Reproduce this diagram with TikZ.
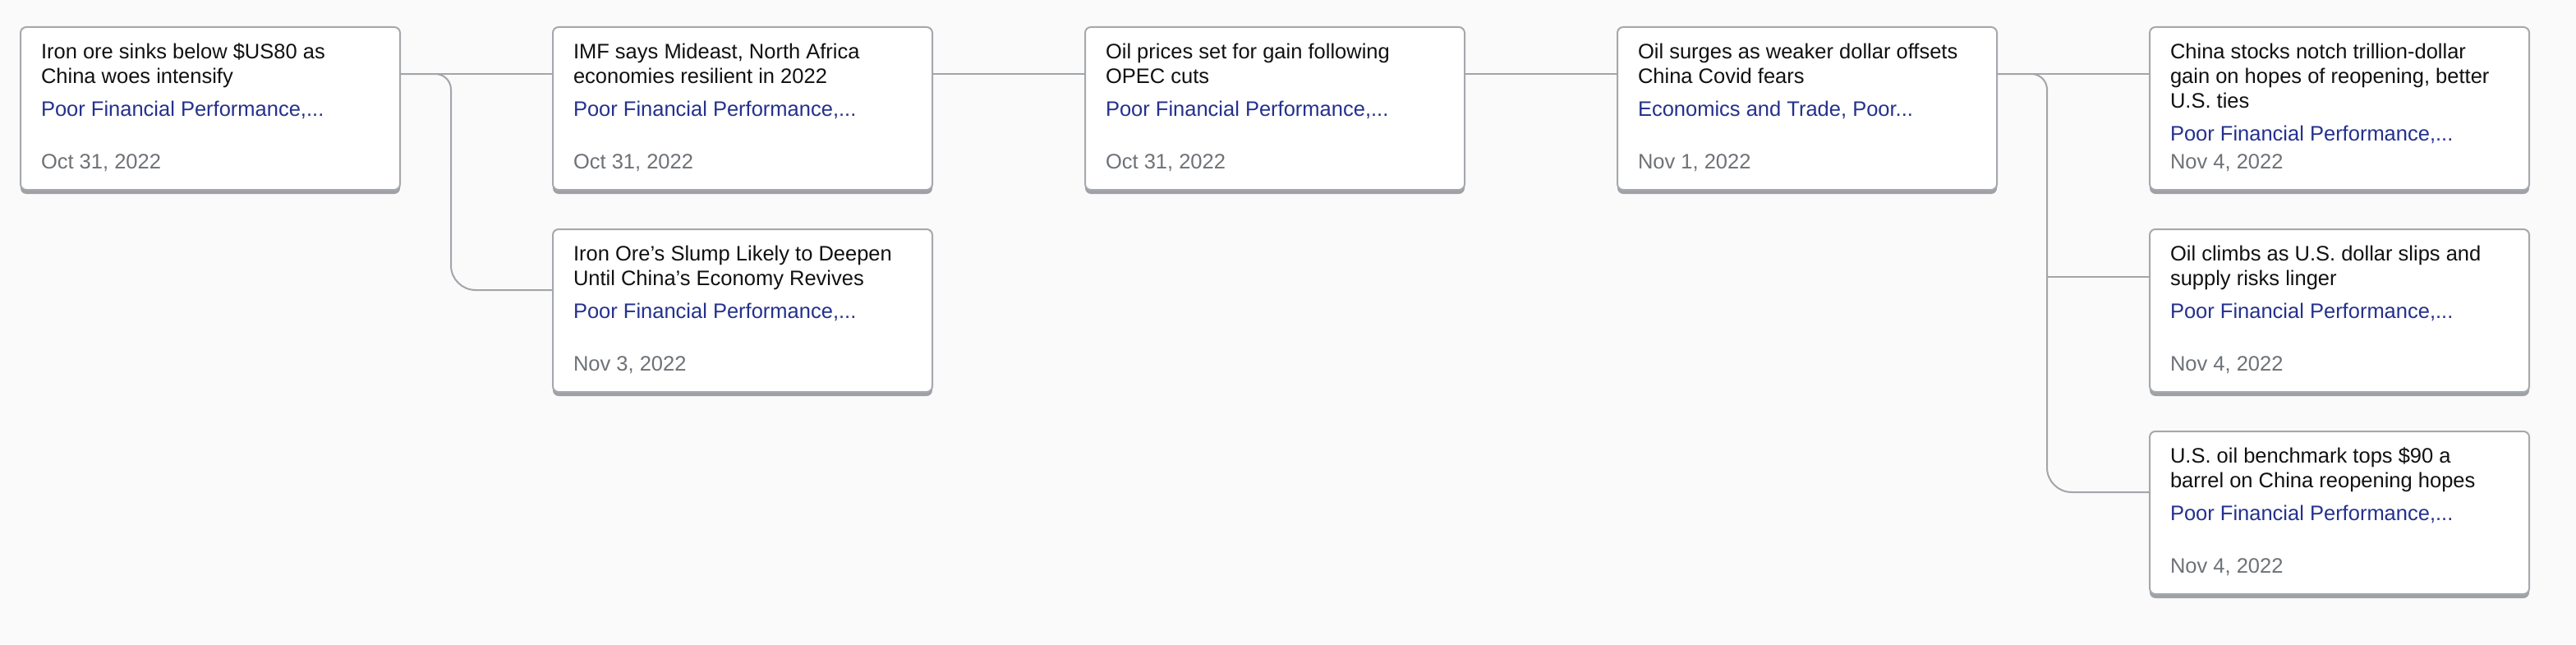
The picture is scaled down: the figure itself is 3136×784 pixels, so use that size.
\documentclass[tikz,border=0pt]{standalone}
\usepackage{fontspec}
\setmainfont{Liberation Sans}
\usetikzlibrary{calc,shadows}
\definecolor{bg}{HTML}{FAFAFA}
\definecolor{cardborder}{HTML}{A5A8AC}
\definecolor{shadowgray}{HTML}{9EA1A6}
\definecolor{linegray}{HTML}{A2A5A9}
\definecolor{titlecol}{HTML}{111111}
\definecolor{tagcol}{HTML}{24318D}
\definecolor{datecol}{HTML}{6E7277}
\tikzset{
  card/.style={draw=cardborder, line width=2pt, fill=white, rounded corners=7pt,
    minimum width=462pt, minimum height=198pt, anchor=north west, inner sep=0pt, outer sep=0pt,
    drop shadow={shadow xshift=0pt, shadow yshift=-5pt, fill=shadowgray, opacity=1, shadow scale=1}},
  txt/.style={anchor=base west, inner sep=0pt, outer sep=0pt, font=\fontsize{25.5}{30}\selectfont},
  ttl/.style={txt, text=titlecol},
  tg/.style={txt, text=tagcol},
  dt/.style={txt, text=datecol},
  conn/.style={draw=linegray, line width=2pt}
}
\newcommand\mkcard[8]{%
  \node[card] (#1) at #2 {};
  \node[ttl] (#1a) at ($(#1.north west)+(25,38)$) {#3};
  \node[ttl] (#1b) at ($(#1.north west)+(25,68)$) {#4};
  \if\relax\detokenize{#5}\relax\else
    \node[ttl] (#1c) at ($(#1.north west)+(25,98)$) {#5};\fi
  \node[tg] (#1g) at ($(#1.north west)+(25,#6)$) {#7};
  \node[dt] (#1d) at ($(#1.north west)+(25,172)$) {#8};
}
\begin{document}
\begin{tikzpicture}[x=1pt,y=-1pt]
\fill[bg] (0,0) rectangle (3136,784);
\useasboundingbox (0,0) rectangle (3136,784);

\mkcard{c1}{(25,33)}{Iron ore sinks below \$US80 as}{China woes intensify}{}{108}{Poor Financial Performance,...}{Oct 31, 2022}
\mkcard{c2}{(673,33)}{IMF says Mideast, North Africa}{economies resilient in 2022}{}{108}{Poor Financial Performance,...}{Oct 31, 2022}
\mkcard{c3}{(1321,33)}{Oil prices set for gain following}{OPEC cuts}{}{108}{Poor Financial Performance,...}{Oct 31, 2022}
\mkcard{c4}{(1969,33)}{Oil surges as weaker dollar offsets}{China Covid fears}{}{108}{Economics and Trade, Poor...}{Nov 1, 2022}
\mkcard{c5}{(2617,33)}{China stocks notch trillion-dollar}{gain on hopes of reopening, better}{U.S. ties}{138}{Poor Financial Performance,...}{Nov 4, 2022}
\mkcard{c6}{(673,279)}{Iron Ore’s Slump Likely to Deepen}{Until China’s Economy Revives}{}{108}{Poor Financial Performance,...}{Nov 3, 2022}
\mkcard{c7}{(2617,279)}{Oil climbs as U.S. dollar slips and}{supply risks linger}{}{108}{Poor Financial Performance,...}{Nov 4, 2022}
\mkcard{c8}{(2617,525)}{U.S. oil benchmark tops \$90 a}{barrel on China reopening hopes}{}{108}{Poor Financial Performance,...}{Nov 4, 2022}

% main chain
\draw[conn] ($(c1.north east)+(0,57)$) -- ($(c2.north west)+(0,57)$);
\draw[conn] ($(c2.north east)+(0,57)$) -- ($(c3.north west)+(0,57)$);
\draw[conn] ($(c3.north east)+(0,57)$) -- ($(c4.north west)+(0,57)$);
\draw[conn] ($(c4.north east)+(0,57)$) -- ($(c5.north west)+(0,57)$);

% branch 1
\coordinate (j1) at ($(c1.north east)+(62,57)$);
\coordinate (k6) at ($(c6.north west)+(0,74)$);
\draw[conn, rounded corners=19pt] ($(c1.north east)+(0,57)$) -- (j1) -- ($(j1)+(0,120)$);
\draw[conn, rounded corners=30pt] ($(j1)+(0,120)$) -- (j1 |- k6) -- (k6);

% branch 2
\coordinate (j2) at ($(c4.north east)+(61,57)$);
\coordinate (k7) at ($(c7.north west)+(0,58)$);
\coordinate (k8) at ($(c8.north west)+(0,74)$);
\draw[conn, rounded corners=19pt] ($(c4.north east)+(0,57)$) -- (j2) -- ($(j2)+(0,120)$);
\draw[conn, rounded corners=30pt] ($(j2)+(0,120)$) -- (j2 |- k8) -- (k8);
\draw[conn] (j2 |- k7) -- (k7);
\end{tikzpicture}
\end{document}
